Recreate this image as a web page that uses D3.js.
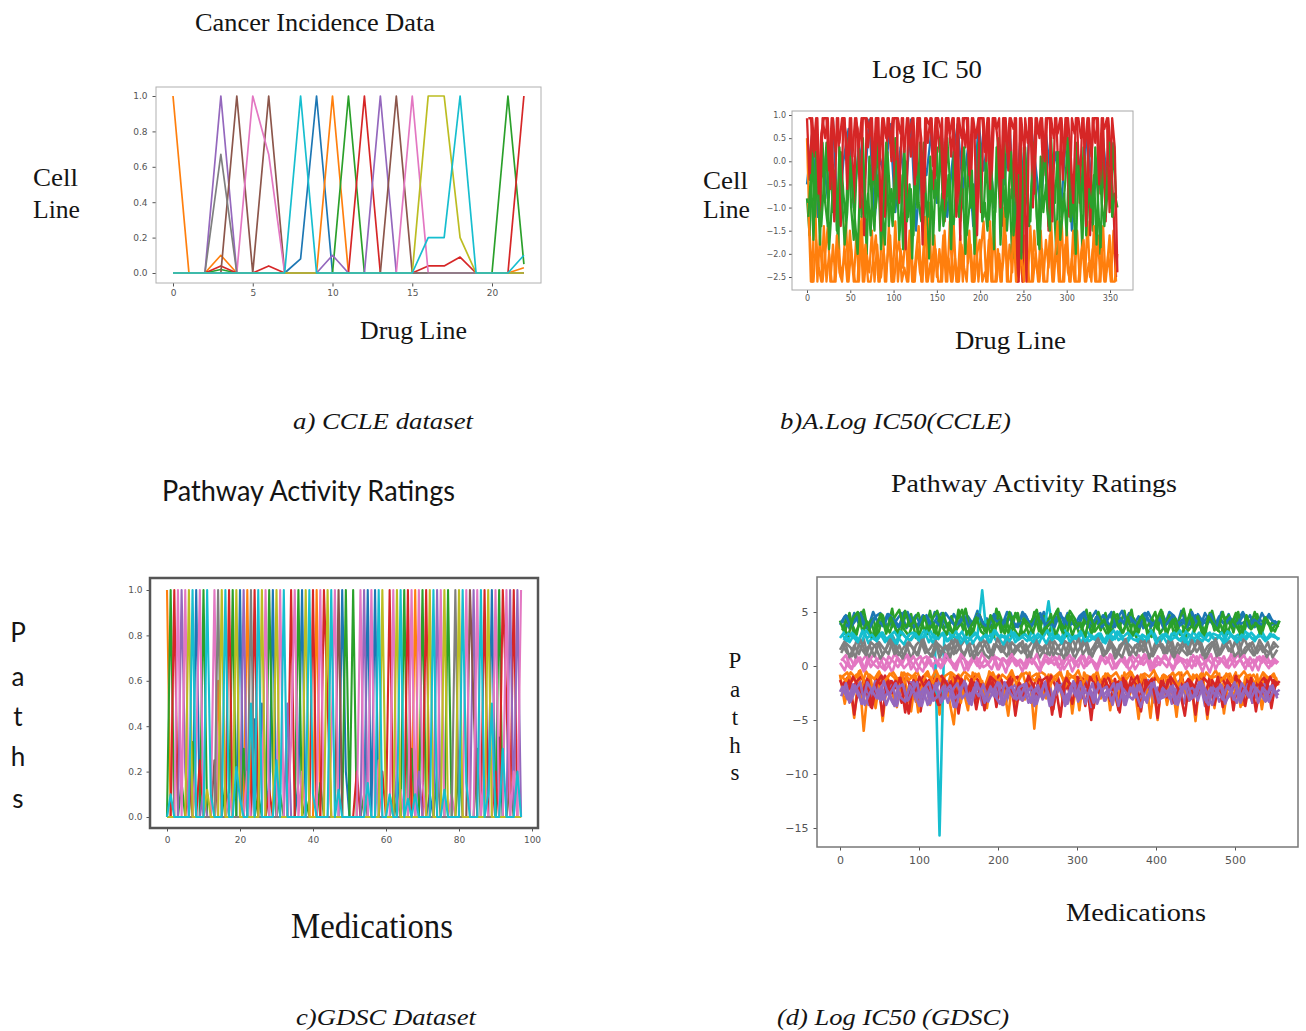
<!DOCTYPE html>
<html>
<head>
<meta charset="utf-8">
<script src="https://cdn.jsdelivr.net/npm/d3@7"></script>
<style>
  body { margin: 0; background: #fff; }
</style>
</head>
<body>
<svg id="fig" width="1306" height="1031"></svg>
<script>
// ---- a) CCLE dataset : 23 drug lines, one series per tab10 colour ----
const ccleBlue   = [0,0,0,0,0,0,0,0,0.08,1,0,0,0,0,0,0,0,0,0,0,0,0,0];
const ccleOrange = [1,0,0,0.1,0,0,0,0,0,0,1,0,0,0,0,0,0,0,0,0,0,0,0.03];
const ccleGreen  = [0,0,0,0.02,0,0,0,0,0,0,0,1,0,0,0,0,0,0,0,0,0,1,0.05];
const ccleRed    = [0,0,0,0.04,0,0,0.04,0,0,0,0,0,1,0,0,0,0.04,0.04,0.09,0,0,0,1];
const cclePurple = [0,0,0,1,0,0,0,0,0,0,0.1,0,0,1,0,0,0,0,0,0,0,0,0];
const ccleBrown  = [0,0,0,0,1,0,1,0,0,0,0,0,0,0,1,0,0,0,0,0,0,0,0];
const cclePink   = [0,0,0,0,0,1,0.67,0,0,0,0,0,0,0,0,1,0,0,0,0,0,0,0];
const ccleGrey   = [0,0,0,0.67,0,0,0,0,0,0,0,0,0,0,0,0,0,0,0,0,0,0,0];
const ccleOlive  = [0,0,0,0,0,0,0,0,0,0,0,0,0,0,0,0,1,1,0.2,0,0,0,0];
const ccleCyan   = [0,0,0,0,0,0,0,0,1,0,0,0,0,0,0,0,0.2,0.2,1,0,0,0,0.1];
const ccleXTicks = [0,5,10,15,20];
const ccleYTicks = [0,0.2,0.4,0.6,0.8,1.0];

// ---- b) Log IC50 (CCLE) : sampled every 3 drug lines (second set shifted by 1.5) ----
const icBlue = [-0.5,0.6,-1.2,0.2,-0.8,0.9,-1.4,0.0,0.7,-1.0,0.4,-0.6,0.9,-1.3,0.1,-0.4,0.8,-1.1,0.3,-0.7,
  0.9,-1.5,0.2,-0.3,0.7,-0.9,0.5,-1.2,0.0,0.8,-0.6,0.3,-1.4,0.9,-0.2,0.6,-1.0,0.1,-0.5,0.8,
  -1.3,0.4,-0.7,0.9,-0.1,-1.1,0.6,-0.4,0.2,-0.9,0.8,-1.5,0.3,-0.6,0.7,-1.0,0.0,0.5,-0.8,0.4];
const icOrange = [0.5,-1.5,-2.6,-0.5,-2.6,-1.6,-2.6,-2.0,-1.4,-2.6,-1.8,-2.6,-1.5,-2.5,-2.2,-1.3,-2.6,-1.9,-2.6,-1.6,
  -2.6,-1.2,-2.6,-2.0,-2.4,-1.5,-2.6,-1.8,-2.6,-1.1,-2.6,-2.1,-1.6,-2.6,-1.3,-2.6,-1.9,-2.3,-1.5,-2.6,
  -1.7,-2.6,-2.0,-1.4,-2.6,-1.8,-2.6,-0.9,-2.6,-1.6,-2.5,-1.9,-2.6,-1.5,-2.6,-1.3,-2.6,-2.1,-2.6,-1.6,
  -2.6,-1.4,-2.2,-1.8,-2.6,-1.5,-2.6,-1.9,-1.3,-2.6,-1.7,-2.6,-1.4,-2.6,-2.0,-2.6,-1.0,-2.6,-1.8,-2.4,
  -1.3,-2.6,-1.9,-2.6,-1.6,-2.6,-1.4,-2.6,-2.0,-2.6,-1.5,-2.6,-1.7,-2.3,-1.3,-2.6,-1.8,-2.6,-1.2,-2.6,
  -1.4,-2.6,-2.1,-2.6,-1.5,-2.6,-1.7,-2.6,-1.3,-2.5,-1.9,-2.6,-1.6,-2.6,-1.4,-2.6,-2.0,-2.6,-1.5,-2.6];
const icOrange2 = [-0.9,-2.6,-2.6,-1.7,-2.3,-2.6,-1.4,-2.6,-2.0,-2.6,-2.6,-1.6,-2.4,-2.6,-1.9,-2.6,-1.5,-2.2,-2.6,-2.6,
  -1.3,-2.6,-1.8,-2.6,-2.6,-2.1,-1.6,-2.6,-2.5,-1.9,-2.6,-1.4,-2.6,-2.6,-2.0,-1.7,-2.6,-2.3,-2.6,-1.5,
  -2.6,-2.6,-1.8,-2.4,-2.6,-1.2,-2.6,-2.2,-2.6,-1.9,-2.6,-2.6,-1.6,-2.6,-2.1,-2.6,-1.4,-2.6,-2.6,-1.8,
  -2.3,-2.6,-1.5,-2.6,-2.6,-2.0,-1.7,-2.6,-2.4,-2.6,-1.3,-2.6,-2.6,-1.9,-2.6,-2.2,-1.6,-2.6,-2.6,-1.4,
  -2.6,-2.5,-2.0,-2.6,-1.7,-2.6,-2.6,-1.5,-2.3,-2.6,-1.9,-2.6,-2.6,-1.6,-2.6,-2.1,-1.3,-2.6,-2.6,-1.8,
  -2.4,-2.6,-1.5,-2.6,-2.6,-2.0,-1.7,-2.6,-2.2,-2.6,-1.4,-2.6,-2.6,-1.9,-2.6,-2.3,-1.6,-2.6,-2.6,-2.0];
const icGreen = [-0.8,-1.6,0.3,-1.2,-0.2,-1.8,0.4,-0.9,-1.4,0.1,-1.1,-0.4,-1.9,0.2,-0.7,-1.3,0.5,-1.0,-1.7,-0.3,
  0.3,-1.2,-0.6,-2.0,0.1,-0.9,-1.5,0.4,-0.5,-1.1,-1.8,0.2,-0.8,-1.4,0.5,-1.0,-0.3,-1.9,0.0,-1.2,
  -0.6,-1.6,0.3,-0.9,-1.3,0.4,-1.1,-2.1,-0.2,-0.8,0.3,-1.5,-0.7,-1.2,0.5,-0.4,-1.8,-0.9,0.2,-1.3,
  -0.6,-2.0,0.1,-1.0,-0.5,-1.6,0.4,-0.8,-1.2,0.2,-1.4,-0.3,-1.9,0.3,-0.7,-1.1,0.5,-1.5,-0.6,-2.1,
  0.0,-1.0,-0.4,-1.7,0.3,-0.9,-1.3,0.4,-0.6,-1.8,0.1,-1.1,-0.5,-1.4,0.5,-0.8,-2.0,0.2,-1.2,-0.7,
  -1.6,0.3,-0.9,-1.3,0.4,-0.5,-1.9,0.1,-1.0,-0.6,-1.5,0.3,-0.8,-2.0,0.2,-1.2,-0.4,-1.0,0.4,-0.8];
const icGreen2 = [-1.2,-0.3,-1.7,0.2,-0.9,-1.4,-0.5,0.4,-1.9,-1.0,-0.2,-1.5,0.3,-0.8,-1.8,-1.1,0.1,-0.6,-1.3,-2.0,
  -0.4,0.5,-1.2,-0.7,-1.6,0.2,-1.0,-0.3,-1.9,-0.8,0.4,-1.4,-0.6,-1.1,0.0,-1.7,-0.9,0.3,-1.3,-0.5,
  -2.1,-0.2,-1.0,0.4,-1.5,-0.7,-1.2,0.1,-1.8,-0.4,-0.9,0.5,-1.4,-1.0,-0.3,-1.9,0.2,-0.8,-1.2,-0.5,
  0.3,-1.6,-1.0,-0.2,-2.0,-0.7,0.4,-1.3,-0.9,-1.5,0.0,-0.6,-1.1,0.5,-1.8,-0.4,-1.2,-0.8,0.2,-1.6,
  -1.0,-0.3,-2.1,0.3,-0.7,-1.4,-0.5,0.1,-1.2,-1.9,-0.6,0.4,-1.0,-1.5,-0.2,-0.9,0.2,-1.7,-1.1,-0.4,
  0.5,-1.3,-0.8,-2.0,-0.1,-1.1,0.3,-1.6,-0.6,-1.0,-0.3,-1.8,0.1,-0.9,-1.4,-0.5,0.4,-1.2,-0.7,-1.0];
const icRed = [0.93,-0.4,0.93,0.1,0.93,-1.1,0.93,0.5,0.93,-0.6,0.93,0.2,0.93,-1.4,0.93,0.6,-0.2,0.93,-0.9,0.93,
  0.3,0.93,-1.6,0.93,0.7,0.93,-0.5,0.93,0.0,0.93,-1.2,0.93,0.4,0.93,-0.8,0.93,0.6,0.93,-1.9,0.93,
  0.1,0.93,-0.3,0.93,0.5,-1.0,0.93,0.8,0.93,-0.6,0.93,0.2,0.93,-1.3,0.93,0.6,0.93,-0.4,0.93,-1.7,
  0.93,0.3,0.93,-0.7,0.93,0.5,0.93,-1.1,0.93,0.0,0.93,-0.5,0.93,0.7,0.93,-1.4,0.93,0.2,0.93,-0.8,
  0.93,-2.6,0.93,-2.6,0.93,0.4,0.93,-1.0,0.93,0.6,0.93,-0.3,0.93,-1.5,0.93,0.5,0.93,-0.6,0.93,0.1,
  0.93,-1.2,0.93,0.6,0.93,-0.9,0.93,0.3,0.93,-1.6,0.93,0.4,0.93,-0.7,0.93,-1.3,0.93,0.2,-1.0,-2.5];
const icRed2 = [0.93,0.93,0.2,0.93,-0.7,0.6,0.93,0.93,-0.2,0.93,-1.3,0.93,0.4,0.93,0.93,-0.6,0.93,0.1,0.93,0.7,
  -1.0,0.93,0.93,0.3,0.93,-0.4,0.93,0.93,-1.5,0.93,0.5,0.93,0.0,0.93,0.93,-0.9,0.93,0.2,0.93,0.6,
  0.93,-0.5,0.93,0.93,-1.8,0.93,0.4,0.93,-0.1,0.93,0.93,0.7,-0.8,0.93,0.93,0.1,0.93,-1.2,0.93,0.5,
  0.93,0.93,-0.3,0.93,0.6,-1.6,0.93,0.93,0.2,0.93,-0.6,0.93,0.93,0.4,-1.0,0.93,0.93,-0.2,0.93,0.7,
  0.93,-2.6,0.93,0.3,-2.6,0.93,0.93,-0.7,0.93,0.5,0.93,0.0,0.93,0.93,-1.3,0.93,0.6,0.93,-0.4,0.93,
  0.93,0.2,-0.9,0.93,0.93,0.5,0.93,-1.4,0.93,0.1,0.93,0.93,-0.5,0.93,0.7,0.93,-1.1,0.93,0.3,-2.4];
const icXTicks = [0,50,100,150,200,250,300,350];
const icYTicks = [-2.5,-2.0,-1.5,-1.0,-0.5,0.0,0.5,1.0];

// ---- c) GDSC dataset : which series (tab10 index) peaks at 1 on each medication, -1 = none ----
const gdscPeakSeries = [1,2,3,6,4,6,8,9,0,6,2,9,-1,6,7,8,9,3,2,8,
  0,4,1,7,3,9,8,6,2,0,8,6,9,-1,3,6,2,0,8,9,
  3,1,6,3,8,9,6,5,0,2,-1,2,-1,6,4,0,6,0,9,8,
  -1,3,6,8,9,2,3,6,1,6,2,3,8,9,4,6,8,2,-1,7,
  8,9,6,5,4,6,9,3,8,0,6,2,3,6,4,3,4,6];
// partial peaks: [medication, series, value]
const gdscPartials = [[2,3,0.25],[5,4,0.2],[7,2,0.33],[9,3,0.25],[11,8,0.12],[14,1,0.6],[18,2,0.33],[20,9,0.08],
  [23,9,0.5],[24,0,0.43],[26,0,0.5],[29,2,0.2],[33,4,0.5],[34,6,0.33],[36,0,0.15],[38,2,0.08],[44,3,0.5],
  [49,0,0.2],[57,0,0.6],[59,3,0.2],[62,2,0.1],[65,2,0.35],[66,9,0.08],[69,4,0.2],[84,5,0.5],[86,9,0.2],
  [89,9,0.5],[91,0,0.35],[93,3,0.5],[95,6,0.2],
  [1,9,0.1],[4,2,0.15],[6,3,0.2],[8,6,0.3],[10,4,0.12],[12,9,0.1],[13,5,0.25],[16,2,0.15],[17,6,0.1],
  [19,9,0.22],[21,2,0.3],[22,6,0.2],[25,2,0.1],[27,0,0.18],[28,3,0.12],[30,9,0.25],[31,2,0.1],[37,6,0.2],
  [40,9,0.1],[42,2,0.15],[45,6,0.3],[47,9,0.12],[52,3,0.2],[54,2,0.1],[55,9,0.15],[58,6,0.25],[61,9,0.1],
  [63,0,0.2],[64,6,0.12],[67,2,0.3],[68,9,0.1],[70,6,0.15],[72,0,0.1],[74,2,0.2],[76,9,0.12],[78,6,0.1],
  [80,2,0.25],[82,9,0.15],[85,2,0.3],[87,6,0.2],[88,9,0.1],[90,3,0.2],[92,9,0.3],[94,2,0.15],[96,9,0.2]];
const gdscXTicks = [0,20,40,60,80,100];
const gdscYTicks = [0,0.2,0.4,0.6,0.8,1.0];

// ---- d) Log IC50 (GDSC) : sampled every 6 medications, extra sets shifted by 1.5 / 3 / 4.5 ----
const gBlue = [3.8,4.6,3.5,4.9,3.9,4.4,3.6,5.0,4.0,3.7,4.8,3.6,4.3,4.9,3.5,4.1,4.7,3.8,4.5,3.6,
  5.0,3.9,4.2,3.7,4.8,4.0,3.6,4.6,3.9,5.1,3.8,4.4,3.5,4.7,4.1,3.7,4.9,3.6,4.3,4.8,
  3.9,4.5,3.6,5.0,4.0,3.8,4.6,3.7,4.9,4.2,3.6,4.7,3.9,4.4,5.1,3.7,4.3,4.8,3.6,4.5,
  4.0,4.9,3.8,4.6,3.5,5.0,4.1,3.7,4.8,3.9,4.4,3.6,5.1,4.0,3.8,4.7,3.6,4.9,4.2,3.7,
  4.6,3.9,4.8,3.6,4.3,5.0,3.8,4.5,3.7,4.9,4.1,3.8,4.2];
const gBlue2 = [4.3,3.7,3.9,4.8,4.1,3.5,3.8,4.6,4.9,3.6,4.0,4.2,3.7,5.0,4.4,3.6,3.9,4.7,4.0,3.8,
  4.5,4.9,3.6,4.1,3.8,4.3,5.1,3.7,4.0,4.6,3.6,3.9,4.8,4.2,3.7,4.5,4.0,3.6,5.0,4.3,
  3.8,4.1,4.7,3.6,3.9,4.4,4.9,3.7,4.1,3.8,4.6,5.0,3.6,4.2,3.9,4.7,4.0,3.6,4.4,5.1,
  3.8,4.2,3.7,4.5,4.9,3.6,4.1,4.3,3.8,5.0,4.6,3.7,4.0,4.4,3.6,4.8,4.1,3.9,4.5,3.7,
  5.0,4.2,3.8,4.6,3.9,4.1,4.7,3.6,4.3,4.0,4.8,3.9,4.1];
const gBlue3 = [4.0,4.7,3.6,4.2,4.9,3.8,3.5,4.5,4.1,3.7,4.8,4.3,3.6,4.0,5.0,3.9,3.6,4.4,4.7,3.8,
  4.1,3.6,4.9,4.3,3.7,4.0,4.6,3.5,4.2,4.8,3.9,3.6,4.5,4.1,3.8,5.0,4.2,3.7,4.0,4.6,
  3.6,4.3,4.9,3.8,4.1,3.6,4.7,4.4,3.7,4.0,3.5,4.8,4.2,3.9,4.6,3.6,4.1,5.0,3.8,4.3,
  3.7,4.5,4.0,3.6,4.9,4.2,3.8,4.6,3.5,4.1,4.7,3.9,4.3,3.6,5.0,4.0,3.7,4.4,4.8,3.6,
  4.2,3.9,4.5,3.7,4.1,4.8,3.6,4.3,4.0,3.8,4.6,4.2,3.9];
const gOrange = [-0.8,-3.5,-1.2,-4.8,-0.5,-6.0,-1.5,-3.2,-0.7,-5.1,-1.0,-2.5,-3.8,-0.6,-1.9,-4.2,-0.9,-2.8,-1.3,-3.6,
  -0.5,-4.5,-1.1,-3.0,-5.4,-0.8,-2.2,-4.1,-0.6,-3.3,-1.4,-3.9,-0.9,-2.7,-1.2,-3.5,-0.7,-4.0,-1.6,-3.1,
  -0.6,-5.8,-1.0,-2.9,-0.8,-3.7,-1.3,-3.2,-0.5,-4.4,-1.1,-2.6,-0.9,-3.8,-1.4,-3.0,-0.7,-4.1,-1.2,-3.4,
  -0.6,-2.8,-1.5,-4.9,-0.8,-3.3,-1.1,-5.0,-0.9,-3.6,-1.3,-4.7,-0.6,-3.1,-1.0,-5.1,-0.8,-2.9,-1.4,-3.9,
  -0.7,-4.4,-1.2,-3.0,-0.9,-3.6,-1.1,-3.2,-0.8,-4.0,-1.3,-3.4,-1.0];
const gOrange2 = [-1.0,-0.6,-1.4,-0.8,-2.0,-0.5,-1.2,-3.9,-0.9,-1.6,-0.7,-1.1,-2.4,-0.6,-1.3,-0.9,-4.3,-1.0,-0.5,-1.7,
  -0.8,-1.2,-2.1,-0.6,-1.0,-3.4,-0.9,-1.5,-0.7,-1.1,-2.6,-0.5,-1.3,-0.8,-1.8,-4.6,-0.9,-1.2,-0.6,-2.2,
  -1.0,-0.7,-1.6,-3.0,-0.8,-1.3,-0.5,-1.9,-1.1,-0.9,-4.1,-0.6,-1.4,-0.8,-2.3,-1.0,-0.7,-1.5,-3.6,-0.9,
  -1.2,-0.6,-2.0,-0.8,-1.1,-4.8,-0.7,-1.4,-0.9,-2.5,-1.0,-0.6,-1.7,-3.2,-0.8,-1.3,-0.5,-4.9,-1.1,-0.9,
  -2.2,-0.7,-1.5,-0.6,-3.8,-1.0,-0.8,-1.6,-2.7,-0.9,-1.2,-0.7,-1.8];
const gOrange3 = [-0.9,-1.4,-0.6,-1.1,-0.4,-1.7,-0.8,-1.2,-0.5,-1.5,-0.9,-0.6,-1.3,-2.1,-0.7,-1.0,-0.5,-1.6,-0.8,-1.2,
  -0.4,-1.4,-0.9,-0.6,-1.8,-1.1,-0.5,-0.9,-1.3,-0.7,-2.2,-1.0,-0.6,-1.5,-0.8,-1.2,-0.4,-1.7,-0.9,-0.6,
  -1.1,-1.4,-0.5,-0.8,-1.9,-1.0,-0.6,-1.3,-0.7,-1.1,-0.4,-1.6,-0.9,-1.2,-0.5,-2.0,-0.8,-1.0,-0.6,-1.4,
  -0.9,-0.5,-1.2,-1.7,-0.7,-1.0,-0.4,-1.5,-0.8,-1.1,-0.6,-1.9,-1.0,-0.5,-1.3,-0.8,-1.6,-0.6,-1.1,-0.4,
  -1.4,-0.9,-0.7,-1.8,-1.0,-0.5,-1.2,-0.8,-1.5,-0.6,-1.1,-0.9,-1.3];
const gGreen = [4.2,3.0,4.9,2.7,3.8,5.2,3.1,4.4,2.8,4.7,3.4,5.3,2.9,4.1,3.6,4.8,2.6,4.3,3.2,5.1,
  2.8,4.6,3.5,4.0,2.7,5.2,3.3,4.5,2.9,4.8,3.6,4.2,2.6,5.3,3.1,4.4,2.8,4.9,3.7,4.1,
  2.7,5.0,3.2,4.6,2.9,4.3,5.3,3.0,4.7,2.8,4.1,3.5,5.2,2.9,4.5,3.3,4.9,2.7,4.2,3.6,
  5.1,2.8,4.4,3.1,4.8,2.6,4.3,3.4,5.0,2.9,4.6,3.2,4.1,2.7,5.2,3.5,4.4,2.8,4.9,3.3,
  4.2,2.9,4.7,3.1,5.0,2.8,4.3,3.6,4.8,3.0,4.5,3.2,4.0];
const gGreen2 = [3.3,4.6,3.9,2.9,5.0,3.6,4.2,2.7,4.8,3.8,3.1,4.5,5.2,3.4,2.8,4.1,4.9,3.5,3.0,4.4,
  5.1,3.7,2.9,4.6,3.3,4.0,5.3,2.8,3.9,4.7,3.2,4.3,2.7,5.0,3.8,3.1,4.5,4.9,2.9,3.6,
  4.2,5.2,3.0,3.7,4.8,2.8,4.0,3.4,5.1,4.4,2.9,3.9,4.6,3.2,5.0,3.6,2.8,4.3,4.8,3.1,
  3.8,5.2,2.7,4.5,3.5,4.1,5.0,3.0,3.7,4.7,2.9,4.2,5.3,3.3,3.9,4.6,2.8,4.0,5.1,3.4,
  3.0,4.5,3.7,4.9,2.9,4.2,3.5,5.0,3.1,4.4,3.8,4.1,3.6];
const gGreen3 = [3.6,2.8,4.4,5.0,3.2,4.1,2.7,3.9,4.8,3.0,4.5,3.4,2.9,5.1,3.7,4.2,2.8,4.6,3.3,4.0,
  2.7,4.9,3.5,3.1,4.3,5.2,2.9,3.8,4.5,3.2,2.8,4.7,3.6,4.1,3.0,5.0,3.4,2.7,4.4,3.9,
  3.1,4.8,2.9,3.7,4.2,5.1,3.3,2.8,4.6,3.5,4.0,2.7,4.9,3.2,3.8,4.3,2.9,5.0,3.6,3.1,
  4.5,2.8,3.9,4.7,3.4,2.7,4.2,5.2,3.0,3.7,4.4,2.9,3.5,4.8,3.2,4.1,2.8,4.6,3.9,3.3,
  5.0,3.0,4.3,3.6,2.8,4.7,3.4,4.0,2.9,4.5,3.7,3.2,4.2];
const gRed = [-1.3,-2.4,-1.0,-4.5,-1.6,-2.1,-0.9,-3.0,-1.4,-4.6,-1.1,-2.5,-1.7,-3.4,-0.8,-2.2,-1.5,-4.2,-1.2,-2.7,
  -1.0,-3.6,-1.8,-2.3,-0.9,-4.4,-1.4,-2.6,-1.1,-3.1,-1.6,-2.0,-0.8,-3.8,-1.3,-2.4,-1.0,-4.6,-1.7,-2.8,
  -1.2,-3.3,-0.9,-2.1,-1.5,-4.0,-1.1,-2.6,-1.8,-3.5,-1.0,-2.3,-1.4,-5.0,-0.9,-2.7,-1.6,-3.2,-1.2,-4.3,
  -1.0,-2.5,-1.5,-3.7,-0.8,-2.2,-1.3,-4.8,-1.1,-2.9,-1.7,-3.3,-0.9,-2.4,-1.4,-4.5,-1.2,-2.8,-1.0,-3.6,
  -1.6,-2.3,-0.9,-4.1,-1.3,-2.6,-1.1,-3.4,-1.5,-2.7,-1.0,-3.9,-1.4];
const gRed2 = [-1.8,-1.1,-2.3,-1.4,-1.0,-2.0,-3.8,-1.2,-1.7,-0.9,-2.4,-1.5,-1.1,-1.9,-4.4,-1.3,-2.2,-1.0,-1.6,-2.5,
  -1.2,-0.9,-2.0,-1.4,-3.5,-1.1,-1.8,-2.3,-1.0,-1.5,-4.1,-1.3,-2.1,-0.9,-1.7,-2.4,-1.2,-1.0,-3.2,-1.6,
  -2.2,-1.1,-1.4,-2.5,-0.9,-1.9,-4.7,-1.2,-1.6,-2.1,-1.0,-1.3,-2.4,-3.9,-1.1,-1.8,-0.9,-2.2,-1.5,-1.2,
  -2.6,-1.0,-1.7,-4.2,-1.3,-2.0,-1.1,-1.5,-2.3,-0.9,-3.4,-1.4,-1.9,-1.2,-2.5,-1.0,-1.6,-4.5,-1.3,-2.1,
  -1.1,-1.8,-2.4,-0.9,-1.5,-3.7,-1.2,-2.0,-1.4,-1.1,-2.6,-1.3,-1.7];
const gRed3 = [-1.5,-2.2,-1.0,-1.8,-2.6,-1.2,-3.9,-1.6,-0.9,-2.3,-1.4,-2.0,-1.1,-4.3,-1.7,-2.5,-1.0,-1.9,-1.3,-2.4,
  -3.6,-1.1,-1.8,-2.2,-0.9,-1.5,-2.6,-1.2,-4.0,-1.7,-2.1,-1.0,-1.4,-2.5,-1.9,-1.2,-3.3,-1.6,-2.3,-0.9,
  -1.8,-2.6,-1.3,-1.0,-4.5,-1.5,-2.2,-1.1,-1.9,-2.4,-1.4,-3.7,-1.0,-1.7,-2.5,-1.2,-2.0,-1.6,-4.1,-1.1,
  -2.3,-1.5,-0.9,-2.6,-1.8,-1.2,-3.5,-1.4,-2.1,-1.0,-1.7,-2.4,-4.6,-1.3,-1.9,-2.2,-1.1,-1.6,-2.5,-1.0,
  -3.8,-1.4,-2.0,-1.2,-1.8,-2.6,-1.1,-4.2,-1.5,-2.3,-1.0,-1.9,-1.4];
const gPurple = [-2.4,-1.5,-3.4,-1.9,-2.8,-1.3,-3.6,-2.1,-1.6,-3.1,-2.5,-1.4,-3.7,-2.0,-2.9,-1.5,-3.3,-2.2,-1.7,-3.5,
  -2.6,-1.3,-3.0,-1.9,-3.8,-2.3,-1.6,-3.2,-2.0,-1.4,-3.6,-2.4,-1.8,-2.9,-1.3,-3.4,-2.2,-1.7,-3.1,-2.5,
  -1.5,-3.7,-2.0,-2.8,-1.4,-3.3,-2.3,-1.6,-3.5,-2.1,-1.9,-3.0,-1.4,-3.8,-2.4,-1.7,-3.2,-2.0,-2.7,-1.5,
  -3.6,-2.2,-1.8,-3.1,-2.5,-1.3,-3.4,-2.0,-2.9,-1.6,-3.5,-2.3,-1.5,-3.0,-2.1,-2.7,-1.4,-3.7,-2.2,-1.8,
  -3.3,-2.6,-1.5,-3.1,-2.0,-2.8,-1.7,-3.4,-2.3,-1.6,-3.2,-2.1,-2.5];
const gPurple2 = [-1.9,-3.0,-2.5,-1.6,-3.5,-2.2,-2.8,-1.4,-3.2,-2.0,-2.6,-3.7,-1.7,-2.4,-3.1,-1.5,-2.9,-2.1,-3.6,-1.8,
  -2.3,-3.3,-1.4,-2.7,-3.8,-2.0,-1.6,-3.0,-2.4,-1.9,-3.4,-2.2,-2.8,-1.5,-3.6,-2.1,-2.6,-1.7,-3.2,-2.4,
  -1.9,-3.5,-2.0,-1.4,-3.0,-2.7,-1.8,-3.7,-2.3,-1.6,-3.1,-2.5,-2.0,-3.4,-1.5,-2.8,-2.2,-3.6,-1.7,-2.4,
  -3.0,-1.9,-2.6,-3.8,-2.1,-1.6,-3.3,-2.4,-1.8,-3.0,-2.7,-1.4,-3.5,-2.2,-2.0,-3.2,-1.7,-2.5,-3.6,-2.1,
  -1.8,-3.1,-2.6,-1.5,-3.4,-2.3,-1.9,-2.9,-2.4,-1.7,-3.3,-2.2,-2.7];
const gPurple3 = [-2.8,-1.6,-3.3,-2.2,-1.5,-3.6,-2.5,-1.9,-3.0,-1.4,-2.7,-3.5,-2.0,-1.7,-3.2,-2.4,-1.5,-3.7,-2.1,-2.9,
  -1.6,-3.4,-2.3,-1.8,-3.0,-2.6,-1.4,-3.5,-2.0,-2.8,-1.7,-3.3,-2.4,-1.5,-3.6,-2.2,-1.9,-3.1,-2.6,-1.6,
  -3.4,-2.1,-2.8,-1.5,-3.7,-2.3,-1.8,-3.0,-2.5,-1.4,-3.3,-2.0,-2.7,-1.6,-3.5,-2.2,-1.9,-3.2,-2.4,-1.5,
  -3.6,-2.0,-2.9,-1.7,-3.1,-2.5,-1.5,-3.4,-2.1,-2.7,-1.8,-3.6,-2.3,-1.6,-3.0,-2.6,-1.4,-3.3,-2.0,-2.8,
  -1.7,-3.5,-2.4,-1.5,-3.1,-2.2,-2.9,-1.6,-3.4,-2.0,-2.6,-1.8,-3.0];
const gPurple4 = [-2.0,-3.1,-1.7,-2.6,-3.5,-1.5,-2.3,-3.0,-1.9,-3.6,-2.4,-1.6,-2.9,-3.3,-1.8,-2.5,-3.7,-2.1,-1.5,-3.2,
  -2.7,-1.9,-3.4,-2.2,-1.6,-3.0,-2.5,-3.6,-1.7,-2.3,-3.2,-1.9,-2.8,-3.5,-1.5,-2.4,-3.0,-2.0,-1.7,-3.4,
  -2.6,-1.8,-3.1,-2.3,-3.6,-1.6,-2.5,-3.3,-1.9,-2.8,-1.5,-3.5,-2.2,-2.9,-1.7,-3.2,-2.4,-1.6,-3.7,-2.1,
  -2.7,-3.1,-1.8,-2.5,-3.4,-1.6,-2.2,-3.0,-2.8,-1.9,-3.5,-2.3,-1.7,-3.2,-2.6,-1.5,-2.9,-3.6,-2.0,-2.4,
  -3.1,-1.8,-2.7,-3.4,-1.6,-2.3,-3.0,-2.0,-2.6,-3.3,-1.9,-2.5,-2.2];
const gPink = [0.3,-0.4,0.9,0.0,0.6,-0.5,1.0,0.2,-0.2,0.8,0.4,-0.6,0.7,0.1,1.1,-0.3,0.5,0.9,-0.1,0.6,
  -0.5,0.8,0.2,1.0,-0.2,0.4,0.9,-0.4,0.7,0.0,1.2,0.3,-0.3,0.8,0.5,-0.6,0.9,0.1,0.6,-0.2,
  1.0,0.3,-0.4,0.7,0.2,1.1,-0.1,0.5,0.8,-0.5,0.4,1.0,0.0,0.6,-0.3,0.9,0.2,1.1,-0.2,0.5,
  0.8,-0.4,0.3,1.0,0.1,0.7,-0.5,0.9,0.4,-0.1,1.2,0.2,0.6,-0.3,0.8,0.0,1.0,0.4,-0.6,0.7,
  0.2,0.9,-0.2,0.5,1.1,0.1,0.6,-0.4,0.8,0.3,1.0,0.0,0.5];
const gPink2 = [0.7,0.1,-0.3,0.9,0.4,1.0,-0.1,0.5,0.8,-0.4,0.2,1.1,0.6,-0.2,0.3,0.9,0.0,-0.5,0.7,1.0,
  0.4,-0.1,0.8,0.2,-0.4,1.1,0.5,0.1,0.9,-0.2,0.6,0.3,1.0,-0.3,0.7,0.0,0.8,0.4,-0.5,0.9,
  0.2,1.1,-0.1,0.6,0.3,0.8,-0.4,0.5,1.0,0.1,0.7,-0.2,0.9,0.4,0.0,1.1,0.6,-0.3,0.3,0.8,
  -0.1,1.0,0.5,0.2,0.9,-0.4,0.7,0.1,1.1,0.3,-0.2,0.8,0.6,0.0,1.0,0.4,-0.5,0.7,0.2,0.9,
  0.5,-0.1,1.1,0.3,0.6,-0.3,0.8,0.1,0.9,0.4,-0.2,0.7,0.3];
const gPink3 = [0.5,1.0,-0.2,0.3,0.8,-0.4,0.6,1.1,0.1,-0.3,0.9,0.4,-0.1,0.7,1.0,0.2,-0.5,0.6,0.9,0.0,
  0.4,-0.2,1.1,0.5,0.1,0.8,-0.4,0.3,1.0,0.6,-0.1,0.2,0.9,-0.3,0.7,0.4,1.1,0.0,0.5,-0.2,
  0.8,0.3,-0.5,1.0,0.6,0.1,0.9,-0.3,0.4,0.7,-0.1,1.1,0.2,0.5,-0.4,0.8,0.3,1.0,-0.2,0.6,
  0.1,0.9,-0.3,0.4,1.1,0.7,-0.1,0.2,0.8,0.5,-0.4,1.0,0.3,0.6,-0.2,0.9,0.1,0.4,1.1,-0.3,
  0.7,0.2,0.8,-0.1,0.5,1.0,0.0,0.6,-0.4,0.9,0.3,0.5,0.2];
const gGrey = [1.5,2.3,0.8,1.9,1.1,2.5,0.7,1.7,2.2,1.0,1.8,2.6,0.9,1.4,2.1,0.6,1.9,2.4,1.2,1.6,
  2.3,0.8,1.5,2.0,1.1,2.5,0.7,1.8,2.2,1.0,1.6,2.4,0.9,2.0,1.3,2.6,0.8,1.7,2.1,1.2,
  1.9,2.5,0.7,1.5,2.3,1.0,1.8,2.2,0.9,2.6,1.4,1.7,2.4,0.8,1.6,2.1,1.1,2.5,0.7,1.9,
  2.3,1.0,1.6,2.2,1.3,2.6,0.9,1.8,2.0,1.2,2.4,0.8,1.5,2.3,1.1,1.9,2.5,0.7,1.7,2.1,
  1.0,2.4,1.4,1.8,2.6,0.9,1.6,2.2,1.2,2.0,0.8,1.5,1.9];
const gGrey2 = [2.0,1.2,0.9,2.4,1.6,1.0,2.2,1.8,0.7,1.4,2.5,1.1,1.9,0.8,2.3,1.5,1.0,2.6,1.3,0.9,
  2.1,1.7,0.8,2.4,1.2,1.9,2.5,0.9,1.5,2.2,1.1,0.7,2.0,1.8,1.3,2.6,1.0,1.6,2.3,0.8,
  1.4,2.1,1.7,0.9,2.5,1.2,1.0,2.3,1.9,0.7,1.6,2.4,1.1,1.8,2.6,0.9,1.4,2.0,1.3,0.8,
  2.2,1.7,1.0,2.5,1.5,0.9,2.1,1.9,1.2,2.6,0.8,1.6,2.3,1.1,1.4,2.4,1.0,1.8,2.2,0.9,
  1.5,2.0,1.3,2.5,0.8,1.7,2.1,1.0,2.4,1.6,1.2,2.2,1.7];
const gGrey3 = [1.2,2.1,1.7,0.8,2.5,1.4,1.9,0.9,2.2,1.6,1.1,2.6,1.3,0.7,2.0,1.8,1.0,2.4,1.5,0.9,
  2.3,1.2,1.9,0.8,2.5,1.6,1.1,2.1,0.7,1.8,2.4,1.3,1.0,2.6,1.5,0.9,2.2,1.7,1.2,2.0,
  0.8,2.5,1.4,1.9,1.0,2.3,1.6,0.7,2.1,1.3,2.6,1.1,1.8,0.9,2.4,1.5,1.2,2.2,0.8,1.7,
  2.5,1.0,1.9,1.4,2.3,0.7,1.6,2.6,1.2,1.8,0.9,2.1,1.5,1.0,2.4,1.3,2.0,0.8,1.7,2.5,
  1.1,1.9,2.3,0.9,1.4,2.6,1.6,1.0,2.0,1.3,2.2,0.8,1.5];
const gCyan = [2.6,3.2,2.2,2.9,2.4,3.3,2.1,2.8,2.5,3.1,2.3,2.9,2.0,3.2,2.6,2.4,3.0,2.2,2.8,3.3,
  2.5,-15.7,2.7,3.1,2.2,2.9,2.4,3.2,2.1,2.8,7.0,2.6,3.0,2.3,2.9,2.5,3.3,2.2,2.7,3.0,
  2.4,2.8,2.1,3.2,6.0,2.6,2.9,2.3,3.1,2.5,2.8,2.2,3.3,2.6,2.4,3.0,2.1,2.9,2.5,3.2,
  2.3,2.7,3.1,2.2,2.8,2.5,3.3,2.4,2.9,2.1,3.0,2.6,2.3,3.2,2.7,2.2,2.9,2.5,3.1,2.4,
  2.8,2.1,3.3,2.6,2.9,2.3,3.0,2.5,2.7,3.2,2.4,2.8,2.6];
const gCyan2 = [2.9,2.3,3.1,2.6,2.1,3.3,2.7,2.4,3.0,2.2,2.8,3.2,2.5,2.0,2.9,3.1,2.4,2.7,3.3,2.2,
  2.6,3.0,2.3,2.8,3.2,2.1,2.7,2.5,3.1,2.4,2.9,2.2,3.3,2.6,2.0,2.8,3.1,2.4,2.7,2.3,
  3.2,2.5,2.9,2.1,3.0,2.6,2.4,3.3,2.2,2.8,2.7,3.1,2.3,2.6,3.0,2.2,2.9,2.4,3.2,2.5,
  2.1,2.8,3.0,2.6,2.3,3.3,2.7,2.2,2.9,2.5,3.1,2.4,2.8,2.0,3.2,2.6,2.3,3.0,2.7,2.5,
  3.1,2.2,2.9,2.6,2.4,3.2,2.8,2.3,3.0,2.5,2.7,2.9,2.4];
const gCyan3 = [2.4,3.0,2.7,2.2,3.3,2.6,2.9,2.3,3.1,2.5,2.8,2.1,3.2,2.7,2.4,3.0,2.6,3.3,2.2,2.9,
  2.5,3.1,2.3,2.8,2.6,3.2,2.1,2.7,3.0,2.4,2.9,2.2,3.3,2.6,2.8,2.3,3.1,2.5,2.9,2.7,
  2.2,3.0,2.6,3.3,2.4,2.8,2.1,3.1,2.7,2.5,3.2,2.3,2.9,2.6,3.0,2.2,2.8,3.3,2.4,2.7,
  3.1,2.5,2.3,2.9,2.6,3.2,2.1,2.8,3.0,2.4,2.7,3.3,2.2,2.9,2.5,3.1,2.6,2.3,3.0,2.8,
  2.4,3.2,2.7,2.2,2.9,2.5,3.1,2.6,2.8,2.3,3.0,2.7,2.5];
const gXTicks = [0,100,200,300,400,500];
const gYTicks = [-15,-10,-5,0,5];

// ---------------------------------------------------------------
const tab10 = d3.schemeCategory10;
const svg = d3.select('#fig');
svg.append('rect').attr('width', 1306).attr('height', 1031).attr('fill', '#fff');

// soft blur, the source figure is a low resolution scan
const defs = svg.append('defs');
defs.append('filter').attr('id', 'soft')
  .attr('x', '-5%').attr('y', '-5%').attr('width', '110%').attr('height', '110%')
  .append('feGaussianBlur').attr('stdDeviation', 0.55);

const SERIF = '"Liberation Serif", "Times New Roman", serif';
const SANS = 'Lato, "Open Sans", "Noto Sans", sans-serif';
const TICKFONT = '"DejaVu Sans", sans-serif';

function drawPanel(p) {
  const [fx0, fy0, fx1, fy1] = p.frame;
  const g = svg.append('g');

  defs.append('clipPath').attr('id', 'clip-' + p.id)
    .append('rect')
    .attr('x', fx0).attr('y', fy0)
    .attr('width', fx1 - fx0).attr('height', fy1 - fy0);

  const line = d3.line()
    .x(d => p.x(d[0]))
    .y(d => p.y(d[1]));

  const plot = g.append('g')
    .attr('clip-path', `url(#clip-${p.id})`)
    .append('g')
    .attr('filter', 'url(#soft)');
  p.series.forEach(s => {
    const off = s.offset || 0;
    plot.append('path')
      .datum(s.values.map((v, i) => [off + i * s.step, v]))
      .attr('d', line)
      .attr('fill', 'none')
      .attr('stroke', s.color)
      .attr('stroke-width', p.lineWidth)
      .attr('stroke-linejoin', 'round');
  });

  const xAxis = d3.axisBottom(p.x)
    .tickValues(p.xTicks)
    .tickSize(p.tickSize)
    .tickPadding(p.xPad)
    .tickFormat(p.xFmt);
  const yAxis = d3.axisLeft(p.y)
    .tickValues(p.yTicks)
    .tickSize(p.tickSize)
    .tickPadding(p.yPad)
    .tickFormat(p.yFmt);

  const styleAxis = a => {
    a.select('.domain').remove();
    a.selectAll('line').attr('stroke', '#555').attr('stroke-width', 1);
    a.selectAll('text')
      .attr('fill', '#555')
      .style('font-family', TICKFONT)
      .style('font-size', p.tickFont + 'px');
  };

  g.append('g').attr('transform', `translate(0,${fy1})`).call(xAxis).call(styleAxis);
  g.append('g').attr('transform', `translate(${fx0},0)`).call(yAxis).call(styleAxis);

  g.append('rect')
    .attr('x', fx0).attr('y', fy0)
    .attr('width', fx1 - fx0).attr('height', fy1 - fy0)
    .attr('fill', 'none')
    .attr('stroke', p.frameColor)
    .attr('stroke-width', p.frameWidth);
}

// a) CCLE
drawPanel({
  id: 'a',
  frame: [156, 87, 541, 283],
  x: d3.scaleLinear().domain([0, 20]).range([173, 492]),
  y: d3.scaleLinear().domain([0, 1]).range([273, 96]),
  xTicks: ccleXTicks, yTicks: ccleYTicks,
  xFmt: d3.format('d'), yFmt: d3.format('.1f'),
  tickSize: 3.5, xPad: 3, yPad: 5, tickFont: 9,
  frameColor: '#b0b0b0', frameWidth: 1, lineWidth: 1.7,
  series: [ccleBlue, ccleOrange, ccleGreen, ccleRed, cclePurple, ccleBrown, cclePink, ccleGrey, ccleOlive, ccleCyan]
    .map((v, k) => ({ values: v, step: 1, color: tab10[k] }))
});

// b) Log IC50 (CCLE)
drawPanel({
  id: 'b',
  frame: [792, 111, 1133, 290],
  x: d3.scaleLinear().domain([0, 350]).range([807, 1110]),
  y: d3.scaleLinear().domain([-2.5, 1]).range([277, 115]),
  xTicks: icXTicks, yTicks: icYTicks,
  xFmt: d3.format('d'), yFmt: d3.format('.1f'),
  tickSize: 3, xPad: 2, yPad: 3, tickFont: 8,
  frameColor: '#a8a8a8', frameWidth: 1, lineWidth: 2.3,
  series: [
    { values: icBlue, step: 6, color: tab10[0] },
    { values: icOrange, step: 3, color: tab10[1] },
    { values: icGreen, step: 3, color: tab10[2] },
    { values: icRed, step: 3, color: tab10[3] },
    { values: icOrange2, step: 3, offset: 1.5, color: tab10[1] },
    { values: icGreen2, step: 3, offset: 1.5, color: tab10[2] },
    { values: icRed2, step: 3, offset: 1.5, color: tab10[3] }
  ]
});

// c) GDSC : build each series from the peak table
const gdscSeries = tab10.map((color, k) => ({
  step: 1,
  color,
  values: gdscPeakSeries.map((s, i) => {
    if (s === k) return 1;
    const part = gdscPartials.find(q => q[0] === i && q[1] === k);
    return part ? part[2] : 0;
  })
}));
drawPanel({
  id: 'c',
  frame: [150, 578, 538, 828],
  x: d3.scaleLinear().domain([0, 100]).range([167, 532]),
  y: d3.scaleLinear().domain([0, 1]).range([817, 590]),
  xTicks: gdscXTicks, yTicks: gdscYTicks,
  xFmt: d3.format('d'), yFmt: d3.format('.1f'),
  tickSize: 3.5, xPad: 5, yPad: 4, tickFont: 9,
  frameColor: '#555', frameWidth: 2.5, lineWidth: 2.1,
  series: gdscSeries
});

// d) Log IC50 (GDSC)
drawPanel({
  id: 'd',
  frame: [817, 577, 1298, 847],
  x: d3.scaleLinear().domain([0, 500]).range([840, 1235]),
  y: d3.scaleLinear().domain([-15, 5]).range([828, 612]),
  xTicks: gXTicks, yTicks: gYTicks,
  xFmt: d3.format('d'), yFmt: d3.format('d'),
  tickSize: 3.5, xPad: 6, yPad: 5, tickFont: 11,
  frameColor: '#777', frameWidth: 1.5, lineWidth: 2.6,
  series: [
    { values: gBlue, color: tab10[0] },
    { values: gOrange, color: tab10[1] },
    { values: gGreen, color: tab10[2] },
    { values: gRed, color: tab10[3] },
    { values: gPurple, color: tab10[4] },
    { values: gPink, color: tab10[6] },
    { values: gGrey, color: tab10[7] },
    { values: gCyan, color: tab10[9] },
    { values: gBlue2, offset: 3, color: tab10[0] },
    { values: gOrange2, offset: 3, color: tab10[1] },
    { values: gGreen2, offset: 3, color: tab10[2] },
    { values: gRed2, offset: 3, color: tab10[3] },
    { values: gPurple2, offset: 3, color: tab10[4] },
    { values: gPink2, offset: 3, color: tab10[6] },
    { values: gGrey2, offset: 3, color: tab10[7] },
    { values: gCyan2, offset: 3, color: tab10[9] },
    { values: gBlue3, offset: 1.5, color: tab10[0] },
    { values: gOrange3, offset: 1.5, color: tab10[1] },
    { values: gGreen3, offset: 4.5, color: tab10[2] },
    { values: gRed3, offset: 4.5, color: tab10[3] },
    { values: gPurple3, offset: 1.5, color: tab10[4] },
    { values: gPink3, offset: 1.5, color: tab10[6] },
    { values: gGrey3, offset: 1.5, color: tab10[7] },
    { values: gCyan3, offset: 4.5, color: tab10[9] },
    { values: gPurple4, offset: 4.5, color: tab10[4] }
  ].map(s => Object.assign({ step: 6 }, s))
});

// ---- titles, axis names and captions ----
const labels = [
  { t: 'Cancer Incidence Data', x: 195, y: 31, size: 25, w: 240, fam: SERIF },
  { t: 'Cell', x: 33, y: 186, size: 25, w: 45, fam: SERIF },
  { t: 'Line', x: 33, y: 218, size: 25, w: 47, fam: SERIF },
  { t: 'Drug Line', x: 360, y: 339, size: 25, w: 107, fam: SERIF },
  { t: 'a) CCLE dataset', x: 293, y: 429, size: 23, w: 180, fam: SERIF, it: true },
  { t: 'Log IC 50', x: 872, y: 78, size: 25, w: 110, fam: SERIF },
  { t: 'Cell', x: 703, y: 189, size: 25, w: 45, fam: SERIF },
  { t: 'Line', x: 703, y: 218, size: 25, w: 47, fam: SERIF },
  { t: 'Drug Line', x: 955, y: 349, size: 25, w: 111, fam: SERIF },
  { t: 'b)A.Log IC50(CCLE)', x: 780, y: 429, size: 23, w: 231, fam: SERIF, it: true },
  { t: 'Pathway Activity Ratings', x: 162, y: 501, size: 28, w: 293, fam: SANS },
  { t: 'Medications', x: 291, y: 938, size: 36, w: 162, fam: SERIF },
  { t: 'c)GDSC Dataset', x: 296, y: 1025, size: 23, w: 180, fam: SERIF, it: true },
  { t: 'Pathway Activity Ratings', x: 891, y: 492, size: 25, w: 286, fam: SERIF },
  { t: 'Medications', x: 1066, y: 921, size: 25, w: 140, fam: SERIF },
  { t: '(d) Log IC50 (GDSC)', x: 777, y: 1025, size: 23, w: 232, fam: SERIF, it: true }
];
svg.append('g').selectAll('text')
  .data(labels)
  .join('text')
  .attr('x', d => d.x)
  .attr('y', d => d.y)
  .attr('textLength', d => d.w)
  .attr('lengthAdjust', 'spacingAndGlyphs')
  .attr('fill', '#141414')
  .style('font-family', d => d.fam)
  .style('font-size', d => d.size + 'px')
  .style('font-style', d => d.it ? 'italic' : 'normal')
  .text(d => d.t);

// vertical "Paths" letters
const pathsC = [['P', 642], ['a', 686], ['t', 726], ['h', 766], ['s', 808]];
const pathsD = [['P', 668], ['a', 697], ['t', 725], ['h', 753], ['s', 780]];
svg.append('g').selectAll('text').data(pathsC).join('text')
  .attr('x', 18).attr('y', d => d[1])
  .attr('text-anchor', 'middle')
  .attr('fill', '#141414')
  .style('font-family', SANS).style('font-size', '26px')
  .text(d => d[0]);
svg.append('g').selectAll('text').data(pathsD).join('text')
  .attr('x', 735).attr('y', d => d[1])
  .attr('text-anchor', 'middle')
  .attr('fill', '#141414')
  .style('font-family', SERIF).style('font-size', '23px')
  .text(d => d[0]);
</script>
</body>
</html>
